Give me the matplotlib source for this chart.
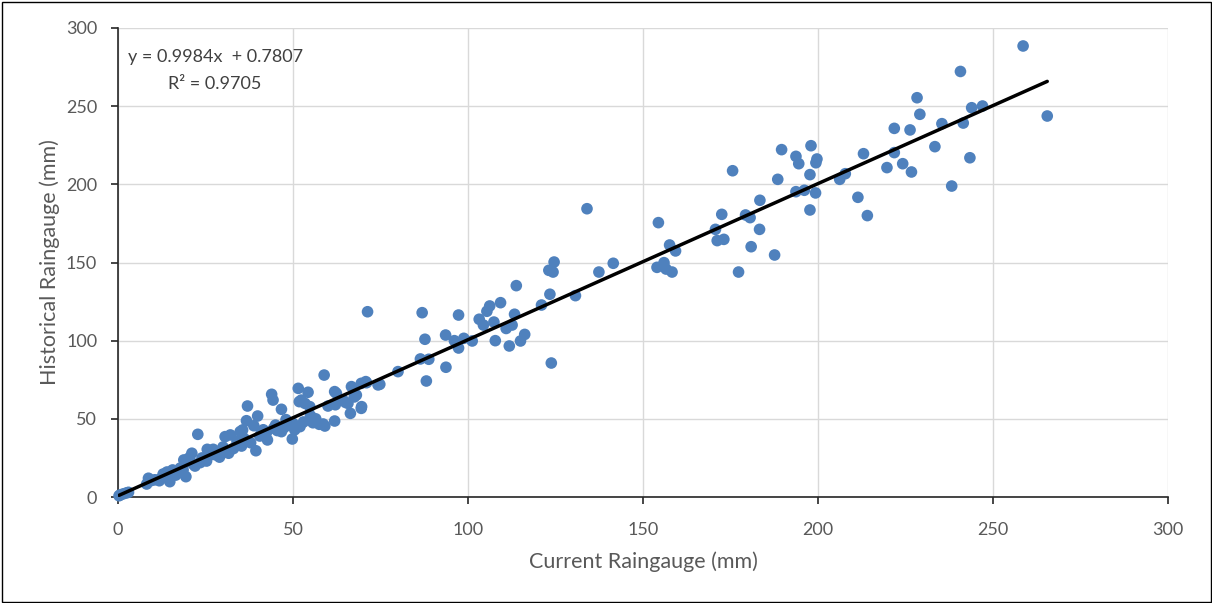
import matplotlib
matplotlib.use("Agg")
import matplotlib.pyplot as plt
import numpy as np
from matplotlib.patches import Rectangle

# ---- data ----
current_mm = [
    0.3, 0.6, 1.5, 2.4, 3.0,
    8.2, 8.7, 9.5, 11.8, 12.9, 13.5, 14.8, 15.6, 17.2, 18.6, 19.4, 16.5, 14.0,
    20.2, 18.8, 21.1, 22.0, 21.5, 23.5, 22.8, 25.3, 25.5, 27.2, 26.0, 28.5, 29.0,
    30.6, 32.1, 31.6, 33.0, 34.9, 35.3, 35.6, 36.7, 37.0, 37.9, 38.8, 39.4, 39.9,
    40.5, 41.0, 42.4, 42.7, 43.9, 44.3, 44.5, 45.5, 46.7, 46.7, 47.5, 48.5, 49.8,
    50.0, 50.5, 51.5, 51.8, 52.4, 52.0, 53.4, 53.0, 54.3, 54.8, 55.0, 55.7, 56.5,
    57.5, 58.6, 58.9, 59.1, 60.0, 61.9, 61.9, 62.4, 62.1, 63.5, 64.3, 65.0, 65.7,
    66.4, 66.7, 67.5, 68.1, 69.5, 69.5, 69.6, 71.0, 71.3, 70.8, 74.3, 74.8,
    16.0, 17.8, 24.0, 27.8, 30.0, 34.0, 36.0, 41.5, 45.0, 48.0, 12.0, 10.5, 20.8,
    80.0, 86.9, 87.7, 86.4, 88.8, 88.1, 93.7, 93.6, 96.1, 97.3, 97.3, 98.8, 101.2,
    103.2, 104.4, 105.4, 106.2, 107.4, 107.8, 109.3, 110.9, 111.8, 112.6, 113.3,
    113.8, 115.0, 116.2, 121.0, 123.1, 123.4, 123.8, 124.3, 124.6, 130.7, 134.0,
    137.4, 141.5,
    154.0, 154.4, 156.0, 156.6, 157.6, 158.3, 159.3, 170.7, 171.2, 172.5, 173.1,
    175.6, 177.3, 179.3, 180.6, 180.9, 183.3, 183.4, 187.6, 188.5, 189.6, 193.7,
    193.7, 194.5, 196.1, 197.7, 197.7, 198.0, 199.3, 199.4, 199.7, 206.2, 207.8,
    211.4, 213.0, 214.1, 219.7, 221.8, 221.8, 224.2, 226.3, 226.7, 228.3, 229.1,
    233.4, 235.4, 238.2, 240.7, 241.5, 243.4, 243.9, 247.0, 258.6, 265.5,
]
historical_mm = [
    0.8, 1.3, 2.0, 2.6, 3.0,
    8.3, 12.0, 10.5, 10.4, 14.7, 12.5, 9.8, 17.3, 15.5, 17.3, 13.0, 14.0, 16.0,
    24.8, 23.7, 28.0, 19.8, 21.0, 22.0, 40.1, 23.0, 30.5, 30.5, 26.5, 29.0, 25.5,
    38.6, 39.7, 28.0, 31.0, 41.8, 32.6, 42.9, 48.8, 58.2, 34.7, 45.6, 29.6, 51.8,
    39.0, 42.0, 41.1, 36.5, 65.7, 62.0, 44.0, 42.5, 56.1, 41.8, 44.5, 46.0, 37.1,
    47.1, 43.0, 69.5, 61.0, 62.0, 45.0, 59.9, 48.0, 67.0, 57.8, 52.0, 47.5, 50.0,
    46.5, 46.7, 78.0, 45.4, 58.2, 67.4, 48.6, 66.3, 59.0, 62.0, 62.0, 60.5, 59.9,
    53.5, 70.6, 64.0, 65.2, 72.7, 56.7, 57.8, 73.1, 118.5, 73.8, 71.7, 72.1,
    16.5, 18.5, 25.0, 27.0, 32.0, 35.5, 37.5, 43.0, 46.0, 49.5, 11.5, 11.0, 22.5,
    80.2, 117.9, 100.9, 88.3, 88.1, 74.2, 83.0, 103.6, 100.0, 95.3, 116.4, 101.5,
    99.8, 113.7, 110.0, 118.8, 122.2, 111.9, 100.0, 124.3, 107.8, 96.6, 110.0,
    116.9, 135.2, 99.8, 104.0, 122.8, 145.0, 129.7, 85.7, 143.9, 150.3, 128.8,
    184.4, 143.9, 149.5,
    146.9, 175.5, 149.9, 145.8, 161.2, 143.9, 157.4, 171.2, 164.0, 180.8, 164.8,
    208.7, 143.9, 180.4, 178.7, 160.1, 171.2, 189.8, 154.8, 203.2, 222.2, 217.9,
    195.3, 213.2, 196.2, 206.2, 183.6, 224.7, 194.5, 213.8, 216.2, 203.2, 206.8,
    191.7, 219.6, 180.0, 210.7, 235.8, 220.3, 213.2, 234.8, 207.9, 255.4, 244.8,
    224.1, 238.8, 198.9, 272.2, 239.2, 217.0, 249.0, 250.1, 288.5, 243.7,
]
trend_slope = 0.9984
trend_intercept = 0.7807
r_squared = 0.9705
x_ticks = [0, 50, 100, 150, 200, 250, 300]
y_ticks = [0, 50, 100, 150, 200, 250, 300]

W, H = 1212, 603
fig = plt.figure(figsize=(W / 100, H / 100), dpi=100)
plt.rcParams['font.family'] = ['Lato', 'DejaVu Sans']

ax = fig.add_axes([118 / W, 1 - 497 / H, (1168 - 118) / W, (497 - 28) / H])

ax.scatter(current_mm, historical_mm, s=70, color='#4F81BD', edgecolors='none',
           zorder=3, clip_on=False)

xs = np.array([min(current_mm), max(current_mm)])
ax.plot(xs, trend_slope * xs + trend_intercept, color='black', lw=2.5,
        solid_capstyle='round', zorder=4)

ax.set_xlim(0, 300)
ax.set_ylim(0, 300)
ax.set_xticks(x_ticks)
ax.set_yticks(y_ticks)
ax.grid(True, color='#D9D9D9', lw=1.0, zorder=0)
ax.set_axisbelow(True)
for s in ['top', 'right']:
    ax.spines[s].set_visible(False)
for s in ['left', 'bottom']:
    ax.spines[s].set_color('#262626')
    ax.spines[s].set_linewidth(1.2)
ax.tick_params(axis='both', direction='out', length=5, width=1.2, color='#262626',
               labelsize=13, labelcolor='#595959')
ax.tick_params(axis='x', pad=13)
ax.tick_params(axis='y', pad=10)

ax.set_xlabel('Current Raingauge (mm)', fontsize=15.5, color='#595959', labelpad=10)
ax.set_ylabel('Historical Raingauge (mm)', fontsize=15.5, color='#595959', labelpad=4)

fig.text(128 / W, 1 - 57 / H, 'y = 0.9984x  + 0.7807', fontsize=13,
         color='#404040', ha='left', va='center')
fig.text(215 / W, 1 - 84 / H, 'R² = 0.9705', fontsize=13,
         color='#404040', ha='center', va='center')

fig.patches.append(Rectangle((1.5 / W, 1.5 / H), (W - 3) / W, (H - 3) / H,
                             transform=fig.transFigure, fill=False,
                             edgecolor='black', lw=1.0))

fig.savefig('out.png', dpi=100)
